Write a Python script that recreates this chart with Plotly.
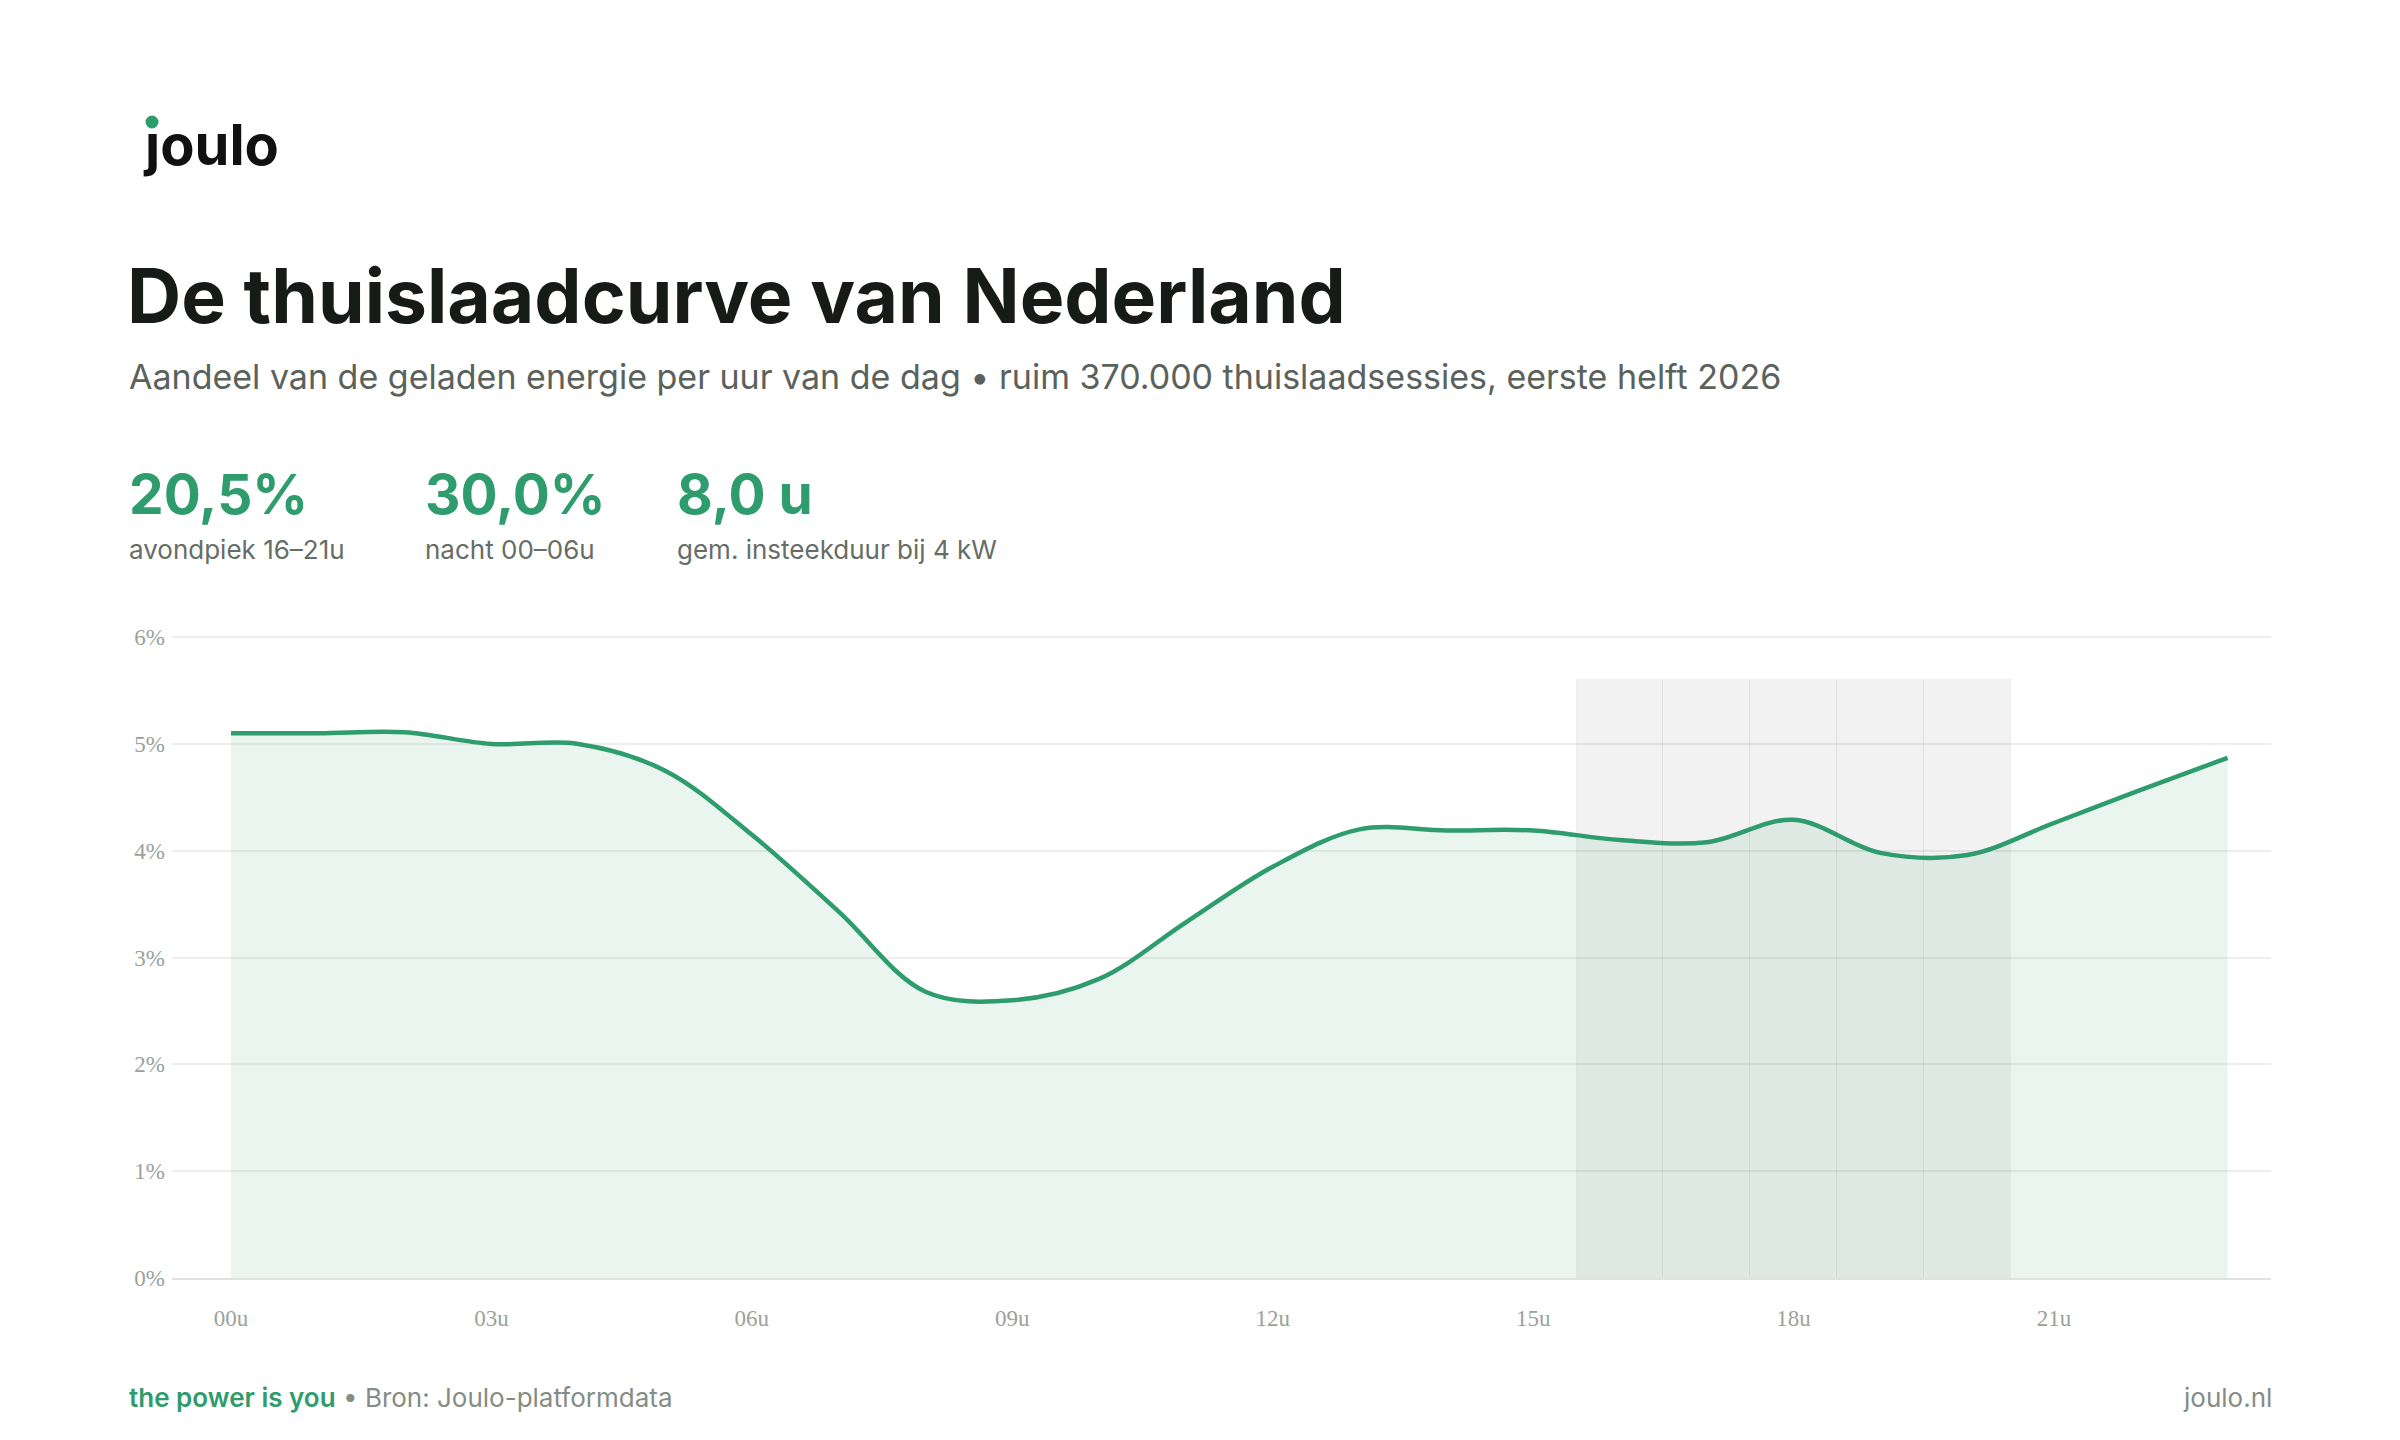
import plotly.graph_objects as go

# ---------------- data ----------------
hours = list(range(24))
share_pct = [5.10, 5.10, 5.11, 5.00, 5.00, 4.75, 4.15, 3.43, 2.68, 2.60, 2.80, 3.33,
             3.85, 4.20, 4.19, 4.19, 4.10, 4.08, 4.29, 3.98, 3.96, 4.26, 4.57, 4.87]
evening_hours = [16, 17, 18, 19, 20]
evening_band = [5.6, 5.6, 5.6, 5.6, 5.6]
x_tick_vals = [0, 3, 6, 9, 12, 15, 18, 21]
x_tick_text = ["00u", "03u", "06u", "09u", "12u", "15u", "18u", "21u"]
y_tick_vals = [0, 1, 2, 3, 4, 5, 6]
y_tick_text = ["0%", "1%", "2%", "3%", "4%", "5%", "6%"]
kpi_values = ["20,5%", "30,0%", "8,0 u"]
kpi_labels = ["avondpiek 16–21u", "nacht 00–06u", "gem. insteekduur bij 4 kW"]

title = "De thuislaadcurve van Nederland"
subtitle = ("Aandeel van de geladen energie per uur van de dag • ruim 370.000 "
            "thuislaadsessies, eerste helft 2026")

GREEN = "#2e9c6c"
W, H = 2400, 1440
L, R, T, B = 172, 129, 635, 162
PW, PH = W - L - R, H - T - B


def px(x):
    return (x - L) / PW


def py(y):
    return (H - B - y) / PH


fig = go.Figure()

fig.add_trace(go.Bar(
    x=evening_hours, y=evening_band, width=1,
    marker=dict(color="rgba(0,0,0,0.05)", line=dict(color="rgba(0,0,0,0.035)", width=1)),
    hoverinfo="skip", showlegend=False,
))
fig.add_trace(go.Scatter(
    x=hours, y=share_pct, mode="lines",
    line=dict(color=GREEN, width=4.5, shape="spline", smoothing=1),
    fill="tozeroy", fillcolor="rgba(46,156,108,0.10)",
    hoverinfo="skip", showlegend=False,
))

ann = []
# logo
ann.append(dict(x=px(141), y=py(145), xref="paper", yref="paper", xanchor="left", yanchor="middle",
                text="ȷoulo", showarrow=False,
                font=dict(family="Inter", size=56, color="#111111", weight=700)))
# title
ann.append(dict(x=px(125), y=py(295), xref="paper", yref="paper", xanchor="left", yanchor="middle",
                text=title, showarrow=False,
                font=dict(family="Inter", size=75, color="#171b18", weight=700)))
ann.append(dict(x=px(127), y=py(377), xref="paper", yref="paper", xanchor="left", yanchor="middle",
                text=subtitle, showarrow=False,
                font=dict(family="Inter", size=34, color="#5a625b")))
kpi_x = [127, 423, 675]
for xv, v, lab in zip(kpi_x, kpi_values, kpi_labels):
    ann.append(dict(x=px(xv), y=py(494), xref="paper", yref="paper", xanchor="left", yanchor="middle",
                    text=v, showarrow=False,
                    font=dict(family="Inter", size=55, color=GREEN, weight=700)))
    ann.append(dict(x=px(xv), y=py(549), xref="paper", yref="paper", xanchor="left", yanchor="middle",
                    text=lab, showarrow=False,
                    font=dict(family="Inter", size=26, color="#666d67")))
# footer
ann.append(dict(x=px(127), y=py(1397), xref="paper", yref="paper", xanchor="left", yanchor="middle",
                text="<span style='color:%s;font-weight:600'>the power is you</span> • Bron: Joulo-platformdata" % GREEN,
                showarrow=False, font=dict(family="Inter", size=26, color="#858c86")))
ann.append(dict(x=px(2274), y=py(1397), xref="paper", yref="paper", xanchor="right", yanchor="middle",
                text="joulo.nl", showarrow=False, font=dict(family="Inter", size=26, color="#858c86")))

shapes = [dict(type="circle", xref="paper", yref="paper",
               x0=px(145.5), x1=px(158.5), y0=py(115.5), y1=py(128.5),
               fillcolor=GREEN, line=dict(width=0), layer="above")]

fig.update_layout(
    width=W, height=H,
    margin=dict(l=L, r=R, t=T, b=B),
    paper_bgcolor="white", plot_bgcolor="white",
    bargap=0,
    annotations=ann, shapes=shapes,
    xaxis=dict(range=[-0.68, 23.5], tickvals=x_tick_vals, ticktext=x_tick_text,
               showgrid=False, zeroline=False, showline=True, linecolor="#dfe3e0", linewidth=2,
               ticks="", ticklabelstandoff=18,
               tickfont=dict(family="Liberation Serif", size=23, color="#9aa29b")),
    yaxis=dict(range=[0, 6.02], tickvals=y_tick_vals, ticktext=y_tick_text,
               showgrid=True, gridcolor="#eeeeee", gridwidth=1.5, zeroline=False, showline=False,
               ticks="", ticklabelstandoff=6,
               tickfont=dict(family="Liberation Serif", size=23, color="#9aa29b")),
)

fig.write_html("out.html")
